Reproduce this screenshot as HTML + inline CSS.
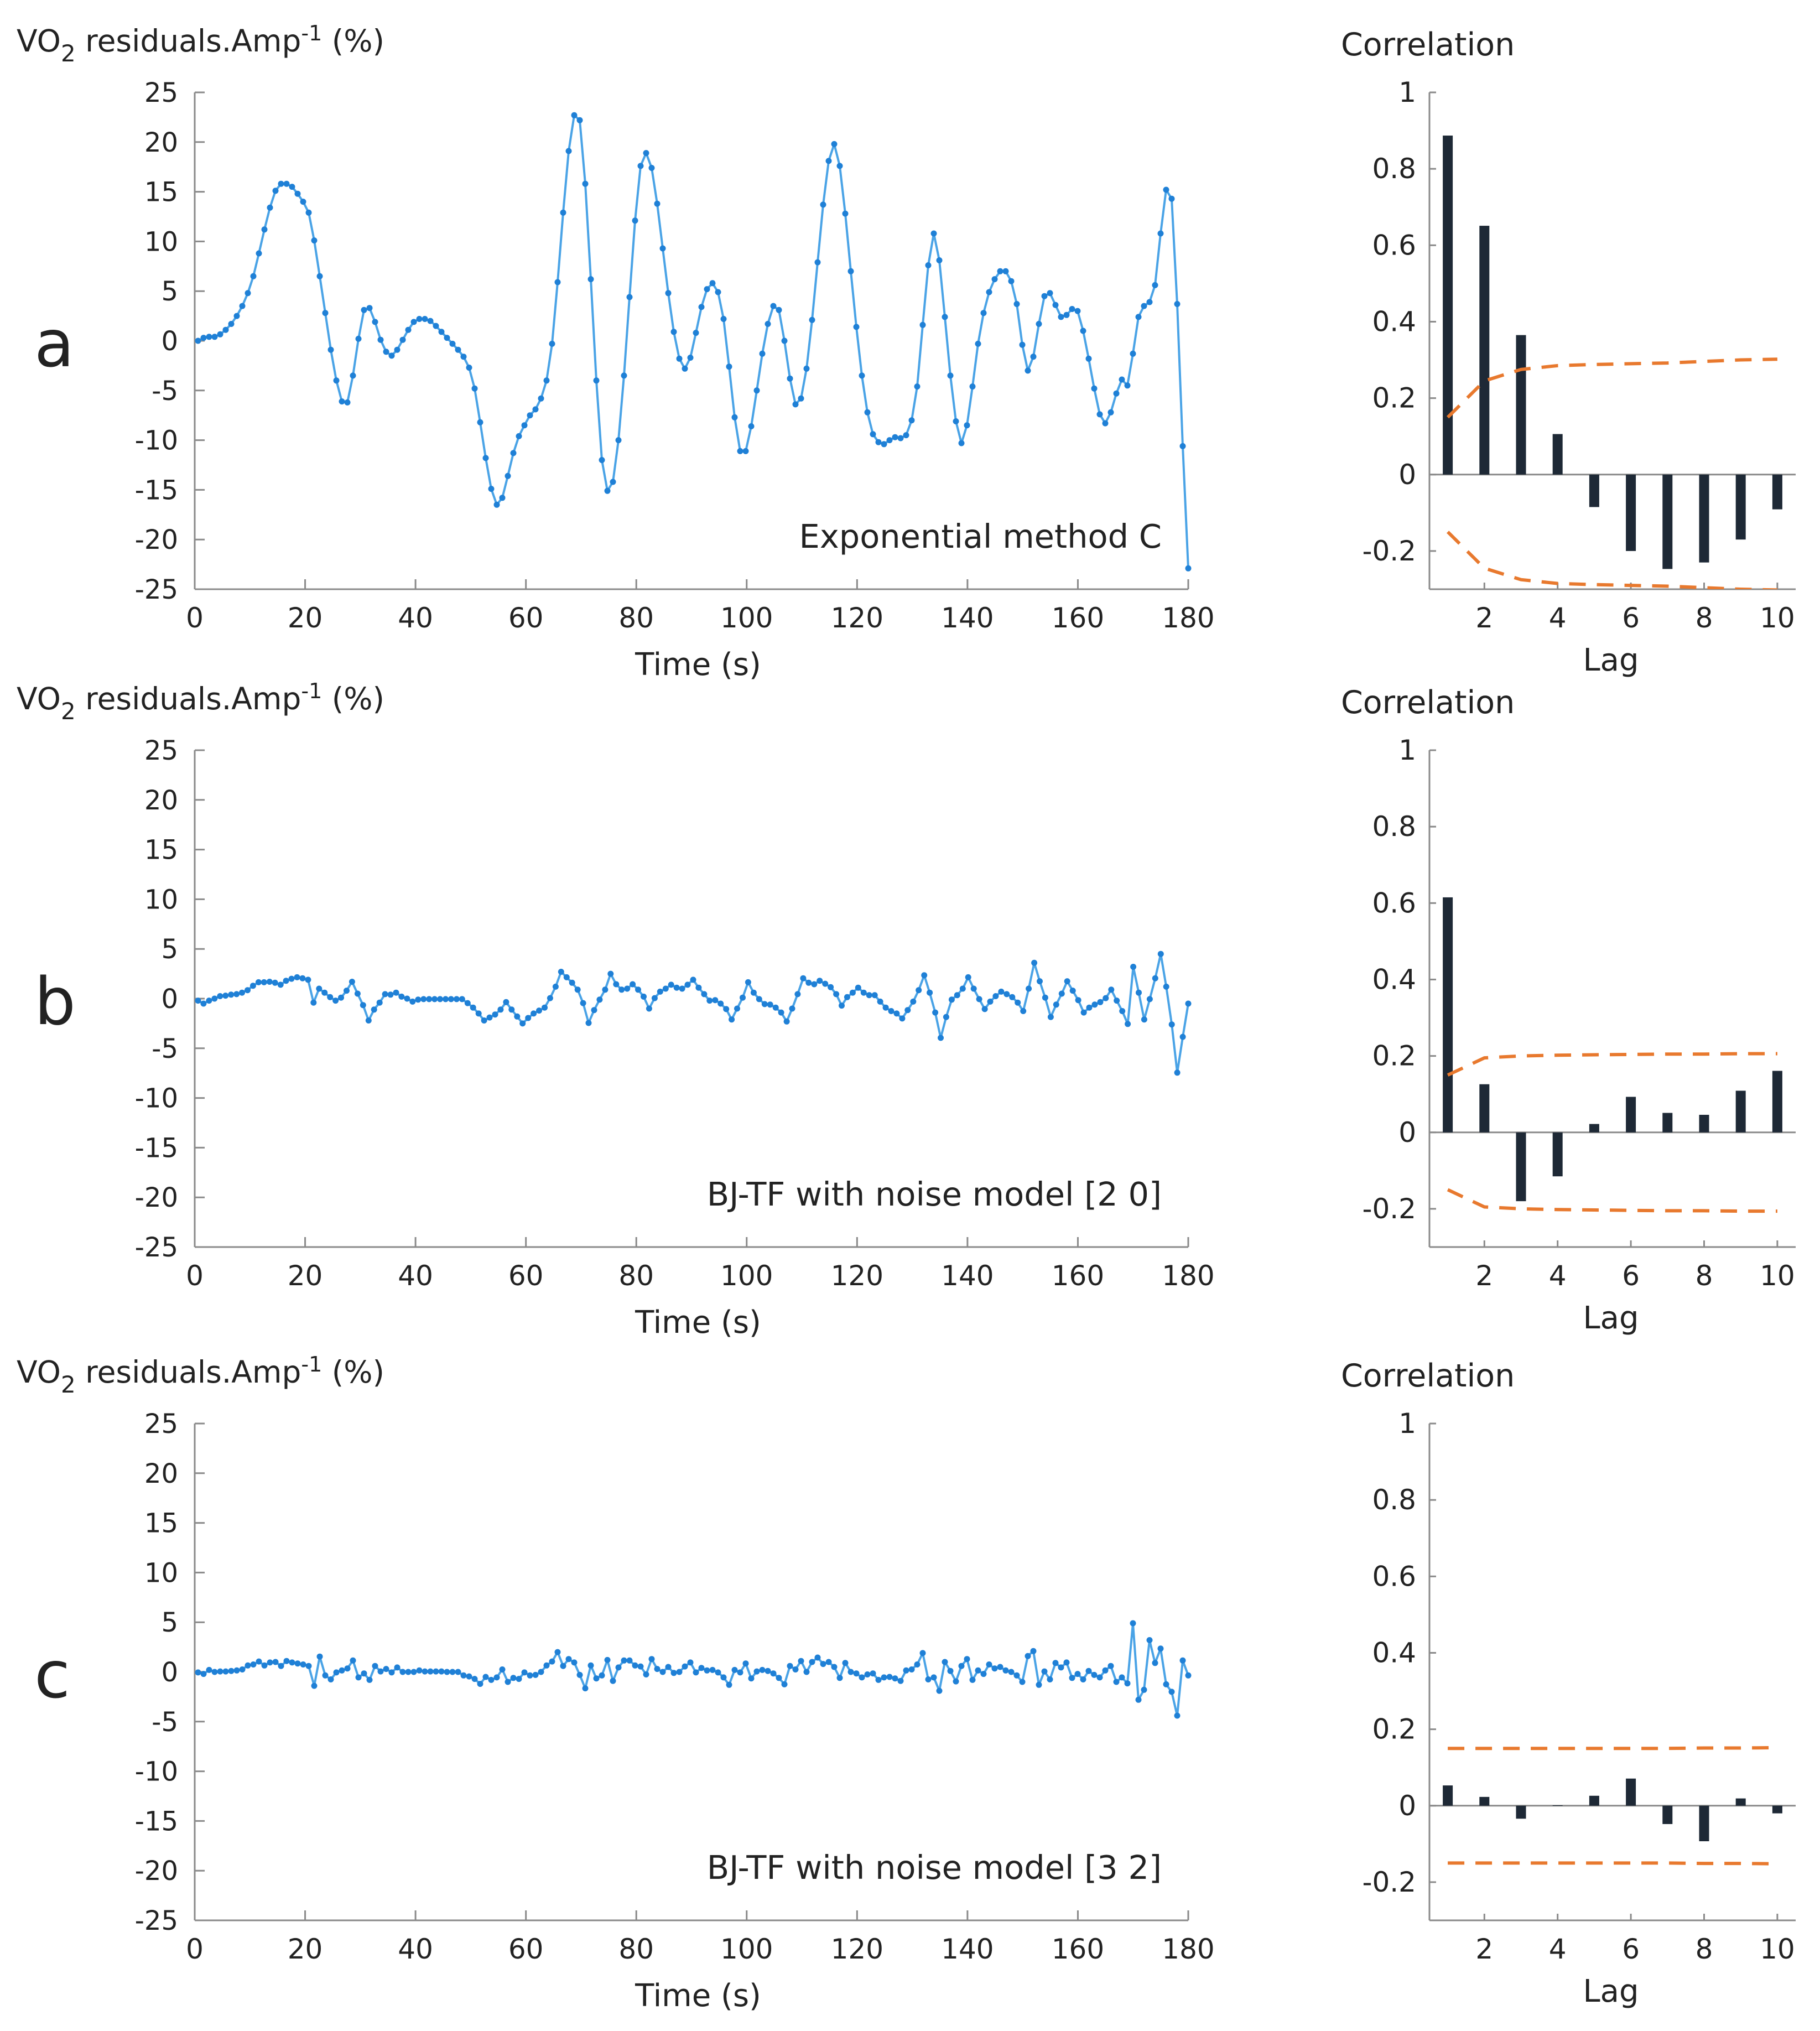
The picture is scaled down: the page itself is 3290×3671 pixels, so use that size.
<!DOCTYPE html>
<html><head><meta charset="utf-8">
<style>
html,body{margin:0;padding:0;background:#fff;}
svg{display:block;}
text{font-family:"DejaVu Sans","Liberation Sans",sans-serif;fill:#222;}
</style></head>
<body>
<svg id="fig" xmlns="http://www.w3.org/2000/svg" width="3290" height="3671" viewBox="0 0 3290 3671"></svg>
<script>
// ---- data ----
const seriesA = [0,0.3,0.4,0.4,0.65,1.1,1.7,2.5,3.5,4.8,6.5,8.8,11.2,13.4,15.1,15.8,15.8,15.5,14.8,14,12.9,10.1,6.5,2.8,-0.9,-4,-6.1,-6.2,-3.5,0.2,3.1,3.3,1.9,0.1,-1.1,-1.5,-0.9,0.1,1.1,1.9,2.2,2.2,2,1.5,0.9,0.3,-0.3,-0.9,-1.6,-2.7,-4.8,-8.2,-11.8,-14.9,-16.5,-15.8,-13.6,-11.3,-9.6,-8.5,
-7.5,-6.9,-5.8,-4,-0.3,5.9,12.9,19.1,22.7,22.2,15.8,6.2,-4,-12,-15.1,-14.2,-10,-3.5,4.4,12.1,17.6,18.9,17.4,13.8,9.3,4.8,0.9,-1.8,-2.8,-1.7,0.8,3.4,5.2,5.8,4.9,2.2,-2.6,-7.7,-11.1,-11.1,-8.6,-5,-1.3,1.7,3.5,3.1,0,-3.8,-6.4,-5.8,-2.8,2.1,7.9,13.7,18.1,19.8,17.6,12.8,7,1.4,
-3.5,-7.2,-9.4,-10.2,-10.4,-10,-9.7,-9.8,-9.5,-8,-4.6,1.6,7.6,10.8,8.1,2.4,-3.5,-8.1,-10.3,-8.5,-4.6,-0.3,2.8,4.9,6.2,7,7,6,3.7,-0.4,-3,-1.6,1.7,4.5,4.8,3.6,2.4,2.6,3.2,3,1,-1.8,-4.8,-7.4,-8.3,-7.2,-5.3,-3.9,-4.5,-1.3,2.4,3.5,3.9,5.6,10.8,15.2,14.3,3.7,-10.6,-22.9];
const seriesB = [-0.2,-0.5,-0.2,0,0.25,0.3,0.4,0.45,0.6,0.85,1.3,1.65,1.65,1.7,1.6,1.4,1.8,2,2.15,2.05,1.9,-0.4,1,0.6,0.15,-0.2,0.1,0.8,1.7,0.5,-0.65,-2.2,-1.1,-0.4,0.45,0.4,0.6,0.2,0,-0.3,-0.1,-0.05,-0.05,-0.05,-0.05,-0.05,-0.05,-0.05,-0.05,-0.45,-0.9,-1.5,-2.2,-1.9,-1.6,-1.1,-0.35,-1.1,-1.8,-2.5,-1.95,-1.5,-1.2,-0.9,0.05,1.2,2.7,2.15,1.6,0.9,-0.45,-2.45,-1.15,-0.1,0.9,2.5,1.45,0.9,1,1.45,0.9,0.2,-1,0.05,0.7,1,1.4,1.1,1,1.4,1.9,
1.1,0.45,-0.2,-0.15,-0.5,-1.05,-2.1,-1,0.1,1.65,0.6,-0.05,-0.55,-0.6,-0.9,-1.4,-2.3,-1,0.45,2.05,1.6,1.45,1.8,1.5,1.15,0.45,-0.7,0.15,0.6,1.1,0.6,0.35,0.35,-0.3,-0.9,-1.25,-1.5,-2,-1.15,-0.3,0.85,2.35,0.6,-1.4,-3.95,-1.85,-0.1,0.35,1,2.15,1,-0.05,-1.05,-0.3,0.25,0.7,0.45,0.15,-0.4,-1.25,1,3.6,1.75,0.1,-1.85,-0.6,0.5,1.75,0.8,-0.15,-1.4,-0.9,-0.6,-0.35,0.05,0.9,-0.2,-1.25,-2.55,3.2,0.6,-2.1,-0.05,2.05,4.5,1.2,-2.6,-7.45,-3.85,-0.5];
const seriesC = [-0.05,-0.2,0.2,0,0.05,0.05,0.1,0.15,0.25,0.65,0.75,1.05,0.65,0.95,1,0.6,1.1,0.95,0.85,0.75,0.6,-1.4,1.55,-0.35,-0.75,-0.05,0.15,0.35,1.15,-0.55,-0.15,-0.8,0.6,0.05,0.3,-0.05,0.45,0,0,0,0.15,0.05,0.05,0.05,0.05,0,0,0,-0.35,-0.45,-0.7,-1.2,-0.5,-0.8,-0.55,0.25,-1,-0.6,-0.7,-0.05,-0.35,-0.3,0,0.65,1.05,2,0.6,1.3,0.95,-0.3,-1.65,0.65,-0.65,-0.35,1.2,-0.9,0.45,1.15,1.15,0.65,0.55,-0.25,1.3,0.3,0,0.5,-0.1,0,0.55,0.95,
-0.05,0.4,0.15,0.2,-0.05,-0.55,-1.3,0.2,-0.05,0.85,-0.65,0.05,0.2,0.1,-0.15,-0.6,-1.25,0.6,0.25,1.1,0,1,1.45,0.8,1,0.5,-0.6,0.9,0,-0.15,-0.55,-0.25,-0.15,-0.8,-0.55,-0.5,-0.65,-0.9,0.15,0.25,0.75,1.9,-0.75,-0.55,-1.9,1,0.1,-0.95,0.6,1.3,-0.8,0.15,-0.2,0.75,0.35,0.5,0.15,0,-0.35,-1,1.6,2.1,-1.3,0.05,-0.75,0.9,0.45,0.95,-0.6,-0.2,-0.75,0.1,-0.3,-0.55,0.15,0.6,-1,-0.55,-1.15,4.9,-2.8,-1.8,3.2,0.9,2.35,-1.25,-2,-4.4,1.15,-0.35];
const acfA = [0.887,0.651,0.365,0.106,-0.085,-0.2,-0.247,-0.23,-0.17,-0.091];
const acfB = [0.615,0.126,-0.18,-0.115,0.022,0.093,0.051,0.046,0.109,0.161];
const acfC = [0.053,0.023,-0.034,0.001,0.026,0.071,-0.048,-0.093,0.019,-0.02];
const boundA = [0.15,0.245,0.275,0.285,0.288,0.29,0.292,0.296,0.3,0.302];
const boundB = [0.15,0.195,0.2,0.202,0.203,0.204,0.205,0.205,0.206,0.206];
const boundC = [0.15,0.15,0.15,0.15,0.15,0.15,0.15,0.151,0.151,0.152];
const lags = [1,2,3,4,5,6,7,8,9,10];
const timeTicks = [0,20,40,60,80,100,120,140,160,180];
const valueTicks = [25,20,15,10,5,0,-5,-10,-15,-20,-25];
const corrTicks = ["1","0.8","0.6","0.4","0.2","0","-0.2"];
const lagTicks = [2,4,6,8,10];
const panelLetters = ["a","b","c"];
const methodLabels = ["Exponential method C","BJ-TF with noise model [2 0]","BJ-TF with noise model [3 2]"];

const NS = "http://www.w3.org/2000/svg";
const svg = document.getElementById("fig");
function mk(tag, attrs, parent){
  const e = document.createElementNS(NS, tag);
  for (const k in attrs) e.setAttribute(k, attrs[k]);
  (parent||svg).appendChild(e);
  return e;
}
const allSeries = [seriesA, seriesB, seriesC];
const allAcf = [acfA, acfB, acfC];
const allBound = [boundA, boundB, boundC];
const offsets = [0, 1189, 2406];

for (let p=0; p<3; p++){
  const off = offsets[p];
  const g = mk("g", {});
  
  
  const L = 352, R = 2148, T = 167+off, B = 1065+off;
  const xs = t => L + (t/180)*(R-L);
  const ys = v => T + (25 - v)/50*(B-T);
  const ax = mk("g", {}, g);
  
  
  mk("line", {x1:L,y1:T,x2:L,y2:B,stroke:"#8a8a8a","stroke-width":3}, ax);
  mk("line", {x1:L,y1:B,x2:R,y2:B,stroke:"#8a8a8a","stroke-width":3}, ax);
  valueTicks.forEach(v=>{
    mk("line",{x1:L,y1:ys(v),x2:L+18,y2:ys(v),stroke:"#8a8a8a","stroke-width":3},ax);
    const tx = mk("text",{x:322,y:ys(v)+17,"text-anchor":"end","font-size":48},ax);
    tx.textContent = v;
    
    
  });
  timeTicks.forEach(t=>{
    mk("line",{x1:xs(t),y1:B,x2:xs(t),y2:B-18,stroke:"#8a8a8a","stroke-width":3},ax);
    const tx = mk("text",{x:xs(t),y:1134+off,"text-anchor":"middle","font-size":50},ax);
    tx.textContent = t;
    
    
  });
  const xt = mk("text",{x:1262,y:1220+off,"text-anchor":"middle","font-size":56},ax);
  xt.textContent = "Time (s)";
  
  
  const yt = mk("text",{x:30,y:93+off,"font-size":55},ax);
  yt.innerHTML = 'VO<tspan dy="18" font-size="42">2</tspan><tspan dy="-18"> residuals.Amp</tspan><tspan dy="-20" font-size="38">-1</tspan><tspan dy="20"> (%)</tspan>';
  
  
  const lt = mk("text",{x:62,y:662+off,"font-size":118},g);
  lt.textContent = panelLetters[p];
  
  
  const ml = mk("text",{x:2100,y:990+off,"text-anchor":"end","font-size":59},g);
  ml.textContent = methodLabels[p];
  
  
  const data = allSeries[p];
  const n = data.length;
  const tAt = i => 0.6 + i*(179.4/(n-1));
  let d = "";
  data.forEach((v,i)=>{ d += (i? "L":"M") + xs(tAt(i)).toFixed(1) + " " + ys(v).toFixed(1); });
  const line = mk("path",{d:d,fill:"none",stroke:"#4aa3e6","stroke-width":4,"stroke-linejoin":"round"},g);
  
  
  const mg = mk("g",{fill:"#1f80d6"},g);
  
  
  data.forEach((v,i)=>{
    const c = mk("circle",{cx:xs(tAt(i)).toFixed(1),cy:ys(v).toFixed(1),r:5.5},mg);
    
    
  });

  const rL = 2584, rR = 3246, rT = 167+off, rB = 1065+off;
  const rx = l => rL + (l-0.5)/10*(rR-rL);
  const ry = v => rT + (1 - v)/1.3*(rB-rT);
  const rg = mk("g",{},g);
  
  
  mk("line",{x1:rL,y1:rT,x2:rL,y2:rB,stroke:"#8a8a8a","stroke-width":3},rg);
  mk("line",{x1:rL,y1:rB,x2:rR,y2:rB,stroke:"#8a8a8a","stroke-width":3},rg);
  mk("line",{x1:rL,y1:ry(0),x2:rR,y2:ry(0),stroke:"#8a8a8a","stroke-width":3},rg);
  corrTicks.forEach(s=>{
    const v = parseFloat(s);
    mk("line",{x1:rL,y1:ry(v),x2:rL+12,y2:ry(v),stroke:"#8a8a8a","stroke-width":3},rg);
    const tx = mk("text",{x:2560,y:ry(v)+17,"text-anchor":"end","font-size":50},rg);
    tx.textContent = s;
    
    
  });
  lagTicks.forEach(l=>{
    mk("line",{x1:rx(l),y1:rB,x2:rx(l),y2:rB-12,stroke:"#8a8a8a","stroke-width":3},rg);
    const tx = mk("text",{x:rx(l),y:1134+off,"text-anchor":"middle","font-size":50},rg);
    tx.textContent = l;
    
    
  });
  const ct = mk("text",{x:2424,y:100+off,"font-size":57},rg);
  ct.textContent = "Correlation";
  
  
  const lg = mk("text",{x:2912,y:1212+off,"text-anchor":"middle","font-size":56},rg);
  lg.textContent = "Lag";
  
  
  allAcf[p].forEach((v,i)=>{
    const l = lags[i];
    const y0 = ry(0), y1 = ry(v);
    const b = mk("rect",{x:rx(l)-9,y:Math.min(y0,y1),width:18,height:Math.max(1,Math.abs(y1-y0)),fill:"#1e2936"},g);
    
    
  });
  const cpId = "clip"+p;
  const cp = mk("clipPath",{id:cpId},g);
  mk("rect",{x:rL,y:rT,width:rR-rL,height:rB-rT},cp);
  [1,-1].forEach(sgn=>{
    let dd = "";
    allBound[p].forEach((v,i)=>{ dd += (i?"L":"M") + rx(lags[i]).toFixed(1) + " " + ry(sgn*v).toFixed(1); });
    const bl = mk("path",{d:dd,fill:"none",stroke:"#e8792e","stroke-width":6,"stroke-dasharray":"30 20","clip-path":"url(#"+cpId+")"},g);
    
    
  });
}
</script>
</body></html>
